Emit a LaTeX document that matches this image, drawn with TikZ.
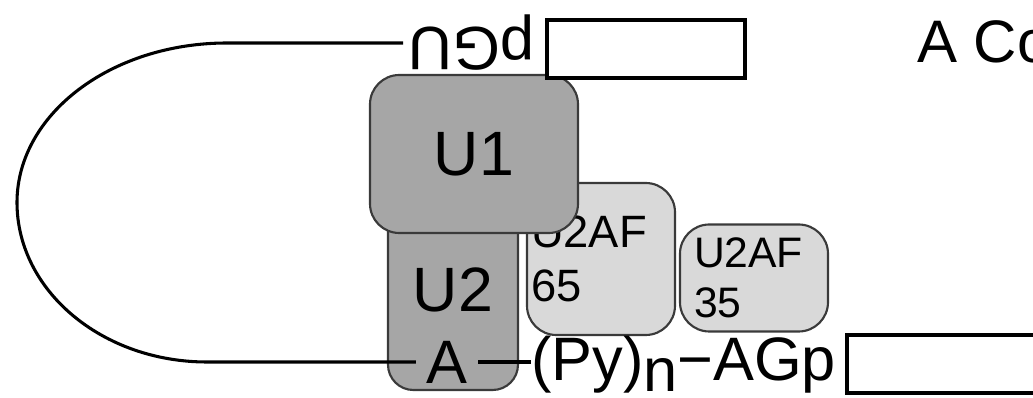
\documentclass[tikz,border=0pt]{standalone}
\usepackage{fontspec}
\setmainfont{Liberation Sans}
\definecolor{darkprot}{HTML}{A6A6A6}
\definecolor{lightprot}{HTML}{D9D9D9}
\definecolor{protedge}{HTML}{3A3A3A}
\begin{document}
\begin{tikzpicture}[x=0.75pt,y=-0.75pt,
  rna/.style={line width=2.3pt, black},
  protein/.style={draw=protedge, line width=1.6pt, rounded corners=22pt, inner sep=0pt, outer sep=0pt},
  exonbox/.style={draw=black, line width=2.6pt, fill=white, inner sep=0pt, outer sep=0pt},
  seqtext/.style={inner sep=0pt, outer sep=0pt, font=\fontsize{46}{52}\selectfont}]
\useasboundingbox (0,0) rectangle (1033,398);

% proteins
\node[protein, fill=lightprot, minimum width=148*0.75pt, minimum height=152*0.75pt,
      inner xsep=3pt, text width=105pt, align=left,
      font=\fontsize{34}{41}\selectfont] (u2af65) at (601,259) {U2AF\\65};
\node[protein, fill=lightprot, minimum width=148*0.75pt, minimum height=107*0.75pt,
      inner xsep=10.5pt, text width=90pt, align=left,
      font=\fontsize{32}{37.5}\selectfont] (u2af35) at (754,278) {U2AF\\35};
\node[protein, fill=darkprot, rounded corners=19pt, minimum width=130*0.75pt, minimum height=201*0.75pt,
      font=\fontsize{47}{52}\selectfont] (u2) at (453,289.5) {U2};
\node[protein, fill=darkprot, minimum width=208*0.75pt, minimum height=158*0.75pt,
      font=\fontsize{47}{52}\selectfont] (u1) at (474,154) {U1};

% exons
\node[exonbox, minimum width=198*0.75pt, minimum height=58*0.75pt] (exon1) at (646,49) {};
\node[exonbox, minimum width=206*0.75pt, minimum height=58*0.75pt] (exon2) at (950,364) {};

% RNA sequence texts
\node[seqtext, inner xsep=4pt, rotate=180] (pgu) at (471.5,43) {pGU};
\node[seqtext, inner xsep=8pt] (bpa) at (447,362) {A};
\node[seqtext, anchor=base west] (py) at (531,381) {(Py)\raisebox{-0.17em}{n}−AGp};

% intron loop
\coordinate (lt) at (227,43);
\draw[rna] (pgu.east) -- (lt)
  arc[start angle=270, end angle=180, x radius=210, y radius=159.5]
  arc[start angle=180, end angle=90, x radius=190, y radius=159.5]
  -- (bpa.west);
\draw[rna] (bpa.east) -- (bpa.east -| py.west);

% title
\node[inner sep=0pt, anchor=base west, font=\fontsize{45}{50}\selectfont] (title) at (917,63) {A Co};
\end{tikzpicture}
\end{document}
